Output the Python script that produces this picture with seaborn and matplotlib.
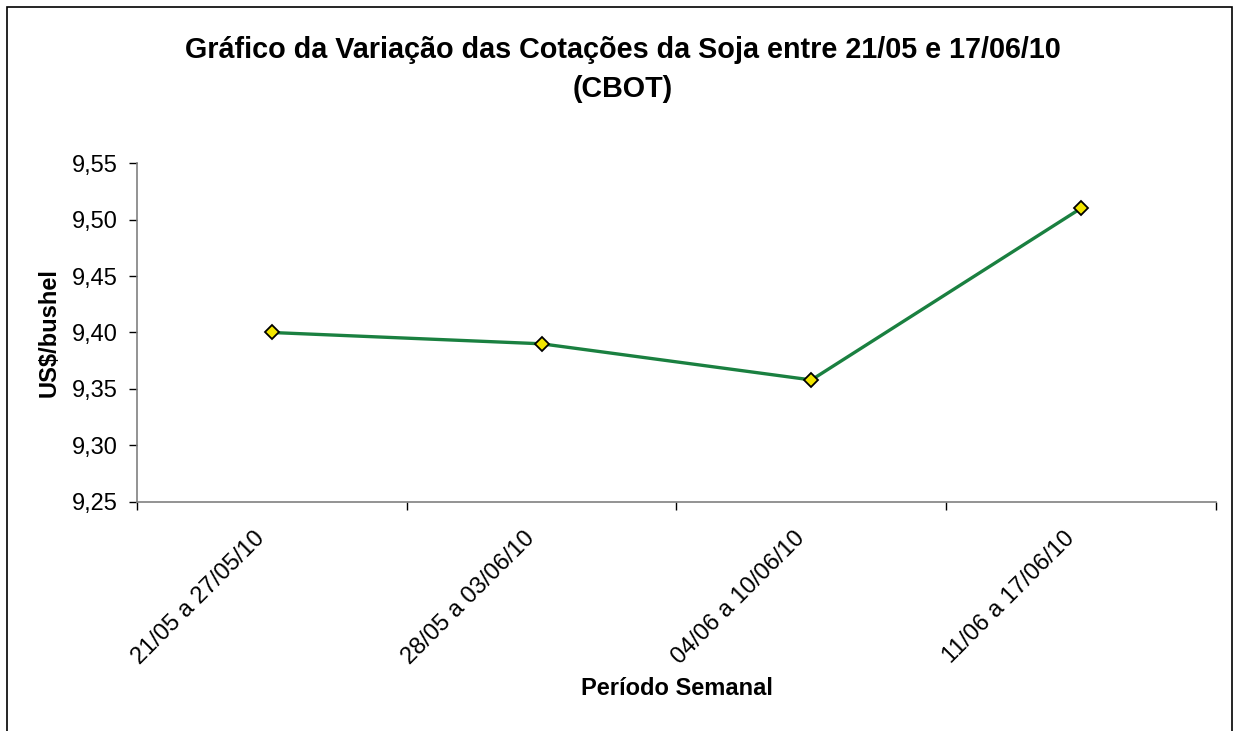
import matplotlib
matplotlib.use('Agg')
import matplotlib.pyplot as plt
import matplotlib.transforms as mtransforms
import seaborn as sns
import pandas as pd
from matplotlib.patches import Rectangle
from matplotlib.ticker import FixedLocator, FuncFormatter

# Weekly soybean quotes (CBOT), US$/bushel
periods = ['21/05 a 27/05/10', '28/05 a 03/06/10', '04/06 a 10/06/10', '11/06 a 17/06/10']
quotes = [9.40, 9.39, 9.358, 9.51]
y_ticks = [9.25, 9.30, 9.35, 9.40, 9.45, 9.50, 9.55]

df = pd.DataFrame({'periodo': periods, 'cotacao': quotes})

sns.set_style('white')
plt.rcParams['font.family'] = ['Liberation Sans', 'DejaVu Sans']
plt.rcParams['text.color'] = 'black'
plt.rcParams['axes.labelcolor'] = 'black'
plt.rcParams['xtick.color'] = 'black'
plt.rcParams['ytick.color'] = 'black'

fig = plt.figure(figsize=(12.34, 7.31), dpi=100)
ax = fig.add_axes([0.111, 0.3133, 0.8744, 0.4637])

sns.lineplot(data=df, x='periodo', y='cotacao', sort=False, color='#1a8040',
             linewidth=2.4, marker='D', markersize=7.5, markerfacecolor='#f2e600',
             markeredgecolor='black', markeredgewidth=1.3, ax=ax)

ax.set_xlim(-0.5, len(periods) - 0.5)
ax.set_ylim(y_ticks[0], y_ticks[-1])
ax.set_yticks(y_ticks)
ax.yaxis.set_major_formatter(FuncFormatter(lambda v, p: f'{v:.2f}'.replace('.', ',')))

ax.set_xticks(range(len(periods)))
ax.set_xticklabels(periods, rotation=45, ha='right', va='top', rotation_mode='anchor')
ax.xaxis.set_minor_locator(FixedLocator([i - 0.5 for i in range(len(periods) + 1)]))
ax.tick_params(axis='x', which='major', length=0, pad=14, labelsize=17)
ax.tick_params(axis='x', which='minor', length=6, width=1, direction='out')
ax.tick_params(axis='y', length=6, width=1, direction='out', labelsize=17, pad=8)
ax.xaxis.set_tick_params(which='minor', bottom=True)
ax.yaxis.set_tick_params(left=True)

# nudge rotated category labels so their ends sit under the points
shift = mtransforms.ScaledTranslation(-0.18, -0.06, fig.dpi_scale_trans)
for lbl in ax.get_xticklabels():
    lbl.set_transform(lbl.get_transform() + shift)

for side in ['top', 'right']:
    ax.spines[side].set_visible(False)
for side in ['left', 'bottom']:
    ax.spines[side].set_color('#808080')
    ax.spines[side].set_linewidth(1.2)

ax.set_xlabel('Período Semanal', fontsize=17, fontweight='bold', labelpad=6)
ax.set_ylabel('US$/bushel', fontsize=17, fontweight='bold', labelpad=8)
ax.grid(False)

fig.text(0.505, 0.905, 'Gráfico da Variação das Cotações da Soja entre 21/05 e 17/06/10\n(CBOT)',
         ha='center', va='center', fontsize=20.7, fontweight='bold', linespacing=1.5)

fig.patches.append(Rectangle((7 / 1234, -0.05), 1225 / 1234, 0.05 + 724 / 731,
                             transform=fig.transFigure, fill=False,
                             edgecolor='black', linewidth=1.2))

fig.savefig('out.png', dpi=100)
